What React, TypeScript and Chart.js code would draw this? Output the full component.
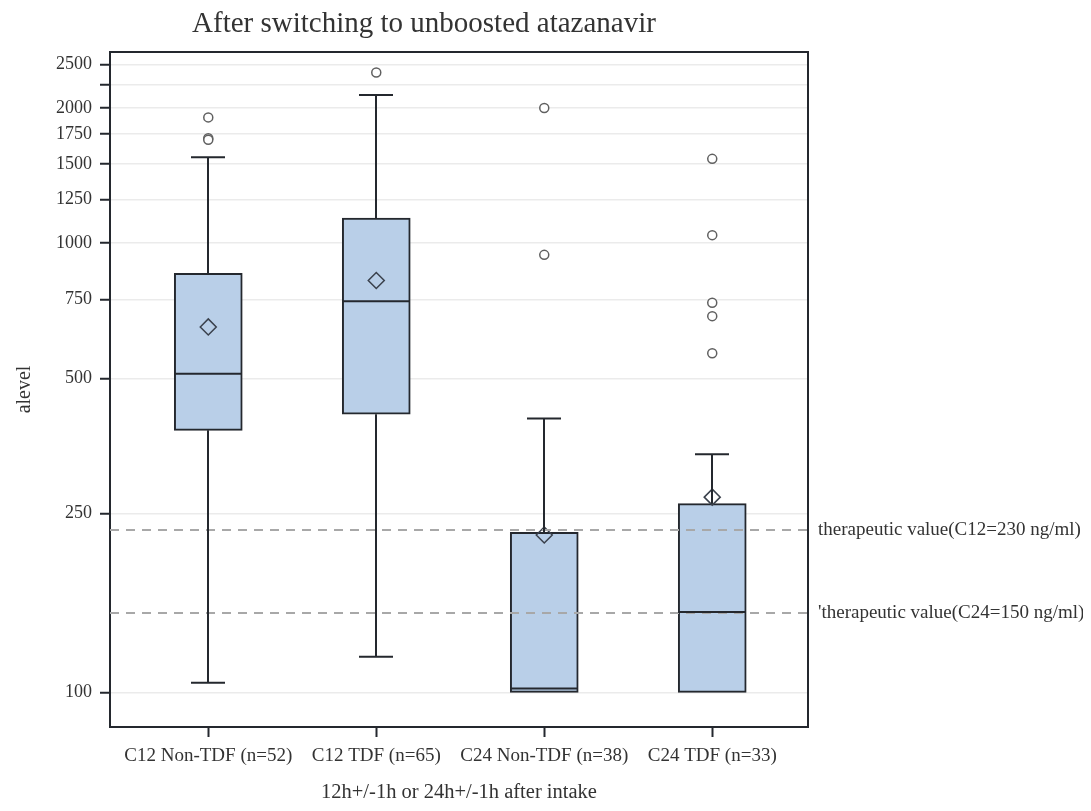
import React, { useEffect, useRef } from 'react';
import { Chart, registerables } from 'chart.js';

Chart.register(...registerables);

const categories = ['C12 Non-TDF (n=52)', 'C12 TDF (n=65)', 'C24 Non-TDF (n=38)', 'C24 TDF (n=33)'];
const q1Values = [383, 416, 100, 100];
const q3Values = [857, 1137, 227, 263];
const medianValues = [512, 743, 102, 151];
const meanValues = [651, 826, 224, 272];
const lowerWhiskers = [105, 120, 100, 100];
const upperWhiskers = [1554, 2138, 407, 339];
const outliersGroup1 = [1906, 1712, 1700];
const outliersGroup2 = [2400];
const outliersGroup3 = [2000, 942];
const outliersGroup4 = [1541, 1042, 737, 688, 569];
const outlierGroups = [outliersGroup1, outliersGroup2, outliersGroup3, outliersGroup4];
const yTickValues = [100, 250, 500, 750, 1000, 1250, 1500, 1750, 2000, 2250, 2500];
const yTickLabels = ['100', '250', '500', '750', '1000', '1250', '1500', '1750', '2000', '', '2500'];
const referenceValues = [230, 150];
const referenceLabels = ['therapeutic value(C12=230 ng/ml)', "'therapeutic value(C24=150 ng/ml)"];
const chartTitle = 'After switching to unboosted atazanavir';
const xTitle = '12h+/-1h or 24h+/-1h after intake';
const yTitle = 'alevel';

const FONT = "'Liberation Serif', 'Times New Roman', serif";
const TEXT = '#333333';
const LINE = '#24282e';

const boxExtras = {
  id: 'boxExtras',
  afterDatasetsDraw(chart: any) {
    const { ctx, chartArea, scales } = chart;
    const x = scales.x;
    const y = scales.y;
    const barMeta = chart.getDatasetMeta(0);
    ctx.save();
    // reference lines
    ctx.strokeStyle = '#a8a8a8';
    ctx.lineWidth = 2;
    ctx.setLineDash([9, 7]);
    referenceValues.forEach((v) => {
      const py = Math.round(y.getPixelForValue(v));
      ctx.beginPath();
      ctx.moveTo(chartArea.left, py);
      ctx.lineTo(chartArea.right, py);
      ctx.stroke();
    });
    ctx.setLineDash([]);
    // whiskers and medians
    ctx.strokeStyle = LINE;
    ctx.lineWidth = 2;
    categories.forEach((_, i) => {
      const px = Math.round(x.getPixelForValue(i));
      const bar = barMeta.data[i] as any;
      const half = bar.width / 2;
      const capHalf = bar.width / 4;
      const yQ1 = y.getPixelForValue(q1Values[i]);
      const yQ3 = y.getPixelForValue(q3Values[i]);
      const yLo = y.getPixelForValue(lowerWhiskers[i]);
      const yHi = y.getPixelForValue(upperWhiskers[i]);
      const yMed = y.getPixelForValue(medianValues[i]);
      ctx.beginPath();
      ctx.moveTo(px, yQ3);
      ctx.lineTo(px, yHi);
      ctx.moveTo(px - capHalf, yHi);
      ctx.lineTo(px + capHalf, yHi);
      if (lowerWhiskers[i] < q1Values[i]) {
        ctx.moveTo(px, yQ1);
        ctx.lineTo(px, yLo);
        ctx.moveTo(px - capHalf, yLo);
        ctx.lineTo(px + capHalf, yLo);
      }
      ctx.moveTo(px - half, yMed);
      ctx.lineTo(px + half, yMed);
      ctx.stroke();
    });
    // frame top and right
    ctx.strokeStyle = LINE;
    ctx.lineWidth = 2;
    ctx.beginPath();
    ctx.moveTo(chartArea.left, chartArea.top);
    ctx.lineTo(chartArea.right, chartArea.top);
    ctx.lineTo(chartArea.right, chartArea.bottom);
    ctx.stroke();
    // reference labels
    ctx.fillStyle = TEXT;
    ctx.font = `19px ${FONT}`;
    ctx.textAlign = 'left';
    ctx.textBaseline = 'middle';
    referenceValues.forEach((v, i) => {
      ctx.fillText(referenceLabels[i], chartArea.right + 10, y.getPixelForValue(v));
    });
    // title
    ctx.font = `29px ${FONT}`;
    ctx.textAlign = 'center';
    ctx.fillText(chartTitle, 416, 16);
    ctx.restore();
  },
};

export default function App() {
  const ref = useRef<HTMLCanvasElement>(null);
  useEffect(() => {
    const chart = new Chart(ref.current as HTMLCanvasElement, {
      type: 'bar',
      data: {
        datasets: [
          {
            type: 'bar',
            data: categories.map((_, i) => ({ x: i, y: [q1Values[i], q3Values[i]] })) as any,
            backgroundColor: '#b9cfe8',
            borderColor: LINE,
            borderWidth: 2,
            borderSkipped: false,
            barThickness: 68,
            order: 2,
          } as any,
          {
            type: 'scatter',
            data: meanValues.map((v, i) => ({ x: i, y: v })),
            pointStyle: 'rectRot',
            pointRadius: 8,
            borderColor: '#3a414c',
            borderWidth: 1.5,
            backgroundColor: 'rgba(0,0,0,0)',
            order: 0,
          } as any,
          {
            type: 'scatter',
            data: outlierGroups.flatMap((g, i) => g.map((v) => ({ x: i, y: v }))),
            pointStyle: 'circle',
            pointRadius: 4.5,
            borderColor: '#606060',
            borderWidth: 1.5,
            backgroundColor: '#ffffff',
            order: 1,
          } as any,
        ],
      },
      options: {
        responsive: true,
        maintainAspectRatio: false,
        animation: false,
        events: [],
        layout: { padding: { top: 44, right: 275, bottom: 0, left: 0 } },
        plugins: {
          legend: { display: false },
          tooltip: { enabled: false },
          title: { display: false },
        },
        scales: {
          x: {
            type: 'linear',
            min: -0.585,
            max: 3.57,
            offset: false,
            afterBuildTicks: (s: any) => {
              s.ticks = categories.map((_, i) => ({ value: i }));
            },
            afterFit: (s: any) => {
              s.height = 76;
            },
            ticks: {
              callback: (v: any) => categories[v] ?? '',
              font: { family: FONT, size: 19 },
              color: TEXT,
              padding: 8,
              maxRotation: 0,
              autoSkip: false,
            },
            grid: {
              display: true,
              drawOnChartArea: false,
              drawTicks: true,
              tickLength: 10,
              tickColor: LINE,
              tickWidth: 2,
              offset: false,
            },
            border: { display: true, color: LINE, width: 2 },
            title: {
              display: true,
              text: xTitle,
              font: { family: FONT, size: 20.5, lineHeight: 1 },
              color: TEXT,
              padding: { top: 0, bottom: 0 },
            },
          } as any,
          y: {
            type: 'logarithmic',
            min: 83.7,
            max: 2665,
            bounds: 'data',
            afterBuildTicks: (s: any) => {
              s.ticks = yTickValues.map((v) => ({ value: v }));
            },
            afterFit: (s: any) => {
              s.width = 102;
            },
            ticks: {
              callback: (_v: any, i: number) => yTickLabels[i] ?? '',
              font: { family: FONT, size: 18 },
              color: TEXT,
              padding: 8,
              autoSkip: false,
            },
            grid: {
              color: '#ebebeb',
              lineWidth: 1.5,
              tickColor: LINE,
              tickWidth: 2,
              tickLength: 10,
            },
            border: { display: true, color: LINE, width: 2 },
            title: {
              display: true,
              text: yTitle,
              font: { family: FONT, size: 20 },
              color: TEXT,
              padding: { top: 5, bottom: 0 },
            },
          } as any,
        },
      },
      plugins: [boxExtras],
    });
    return () => chart.destroy();
  }, []);
  return (
    <div style={{ width: 1075, height: 795, position: 'relative' }}>
      <canvas ref={ref} />
    </div>
  );
}
